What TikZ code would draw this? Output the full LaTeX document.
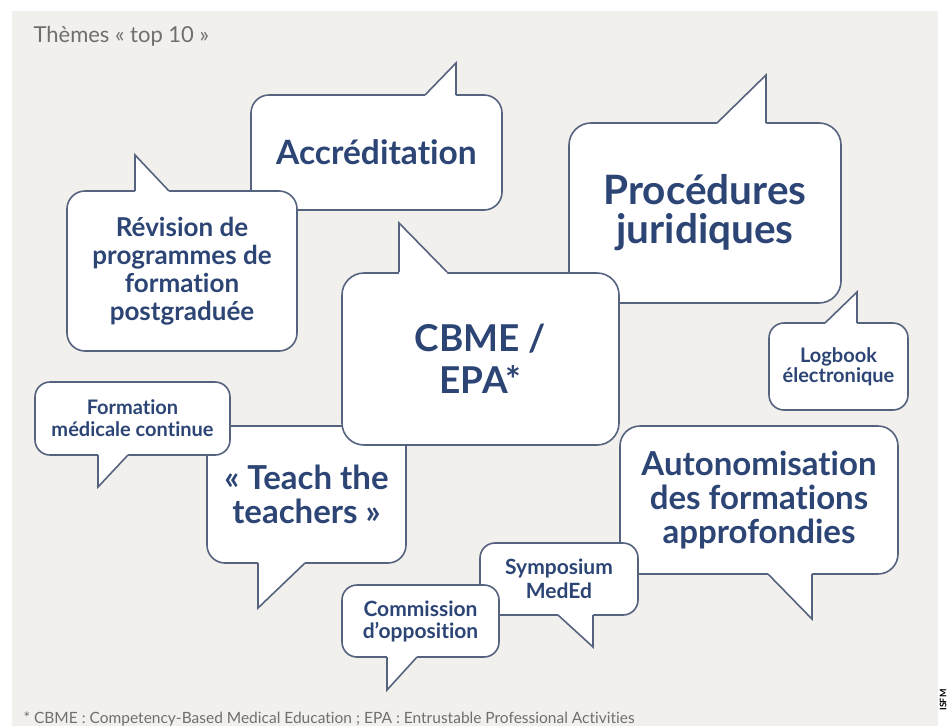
\documentclass[tikz,border=0pt]{standalone}
\usepackage{fontspec}
\setmainfont{Lato}[Ligatures=NoCommon]
\usetikzlibrary{calc}
\definecolor{bgc}{HTML}{F2F0EC}
\definecolor{navy}{HTML}{2C4575}
\definecolor{bcol}{HTML}{56637F}
\definecolor{ttl}{HTML}{6F6F6F}
\newcommand\mytail[4]{\fill[white] #1 -- #2 -- #3 -- ($#3+#4$) -- ($#1+#4$) -- cycle; \draw[bline] #1 -- #2 -- #3;}
\newcommand\fs[2]{\fontsize{#1}{#2}\selectfont}
\begin{document}
\begin{tikzpicture}[x=1pt,y=-1pt,
  bubble/.style={draw=bcol, line width=1.6pt, fill=white, rounded corners=18pt, align=center, text=navy, inner sep=0pt},
  bline/.style={draw=bcol, line width=1.6pt}]
\useasboundingbox (0,0) rectangle (947,726);
\fill[white] (0,0) rectangle (947,726);
\fill[bgc] (12,11) rectangle (938,726);
\node[anchor=base west, text=ttl, font=\fs{22}{26}] (title) at (30,42) {Thèmes « top 10 »};

% Accréditation
\node[bubble, minimum width=251pt, minimum height=115pt, font=\bfseries\fs{33.5}{36}] (acc) at (376.5,152.5) {Accréditation};
\mytail{(425,95)}{(456,63)}{(456,95)}{(0,3)}
% Révision
\node[bubble, minimum width=230pt, minimum height=160pt, font=\bfseries\fs{26}{28}] (rev) at (182,271) {Révision de\\programmes de\\formation\\postgraduée};
\mytail{(135,191)}{(135,155)}{(169,191)}{(0,3)}
% Procédures
\node[bubble, rounded corners=22pt, minimum width=272pt, minimum height=180pt, font=\bfseries\fs{40.5}{39}] (proc) at (705,213) {Procédures\\juridiques};
\mytail{(717,123)}{(766,75)}{(766,123)}{(0,3)}
% Teach the teachers
\node[bubble, minimum width=199pt, minimum height=137pt, font=\bfseries\fs{33}{34}] (teach) at (306.5,494.5) {« Teach the\\teachers »};
\mytail{(258,563)}{(258,608)}{(305,563)}{(0,-3)}
% Formation médicale continue
\node[bubble, rounded corners=15pt, minimum width=195pt, minimum height=73pt, font=\bfseries\fs{20}{22}] (fmc) at (132.5,418.5) {Formation\\médicale continue};
\mytail{(98,455)}{(98,487)}{(128,455)}{(0,-3)}
% CBME / EPA
\node[bubble, rounded corners=22pt, minimum width=277pt, minimum height=172pt, font=\bfseries\fs{37}{42}] (cbme) at (480.5,359) {CBME /\\EPA*};
\mytail{(399,272)}{(399,223)}{(447,272)}{(0,3)}
% Logbook
\node[bubble, rounded corners=15pt, minimum width=139pt, minimum height=87pt, font=\bfseries\fs{20}{20}] (log) at (838.5,366.5) {Logbook\\électronique};
\mytail{(825,323)}{(857,292)}{(857,323)}{(0,3)}
% Autonomisation
\node[bubble, rounded corners=20pt, minimum width=278pt, minimum height=148pt, font=\bfseries\fs{33}{34}] (auto) at (759,500) {Autonomisation\\des formations\\approfondies};
\mytail{(768,574)}{(812,619)}{(812,574)}{(0,-3)}
% Symposium
\node[bubble, rounded corners=15pt, minimum width=158pt, minimum height=72pt, font=\bfseries\fs{21}{24}] (sym) at (559,579) {Symposium\\MedEd};
\mytail{(558,615)}{(593,647)}{(593,615)}{(0,-3)}
% Commission
\node[bubble, rounded corners=15pt, minimum width=157pt, minimum height=72pt, font=\bfseries\fs{21}{22}] (com) at (420.5,621) {Commission\\d’opposition};
\mytail{(387,657)}{(387,690)}{(417,657)}{(0,-3)}

\node[anchor=base west, text=ttl, font=\fs{15.5}{16}] (foot) at (20,723) {* CBME : Competency-Based Medical Education ; EPA : Entrustable Professional Activities};
\node[rotate=90, font=\bfseries\fs{9}{9}, text=black] (isfm) at (943,700) {ISFM};
\end{tikzpicture}
\end{document}
